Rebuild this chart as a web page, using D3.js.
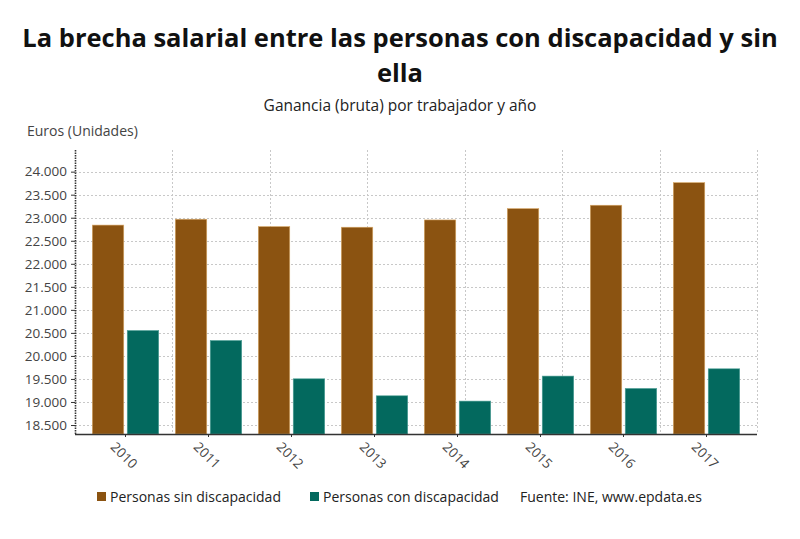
<!DOCTYPE html>
<html>
<head>
<meta charset="utf-8">
<script src="https://cdn.jsdelivr.net/npm/d3@7"></script>
<style>
  body { margin: 0; background: #fff; }
  svg { display: block; font-family: "Open Sans", "Noto Sans", sans-serif; }
</style>
</head>
<body>
<svg width="800" height="539"></svg>
<script>
// data
const years = ['2010', '2011', '2012', '2013', '2014', '2015', '2016', '2017'];
const sinDiscapacidad = [22840, 22967, 22807, 22794, 22952, 23197, 23271, 23761];
const conDiscapacidad = [20551, 20334, 19503, 19134, 19019, 19562, 19293, 19720];
const seriesNames = ['Personas sin discapacidad', 'Personas con discapacidad'];
const yTicks = [18500, 19000, 19500, 20000, 20500, 21000, 21500, 22000, 22500, 23000, 23500, 24000];

const colors = ['#8b5311', '#03695e'];
const strokes = ['#d8a868', '#4fa096'];

const svg = d3.select('svg');
const margin = {left: 75, right: 757, top: 150, bottom: 434};

const fmt = d3.formatLocale({decimal: ',', thousands: '.', grouping: [3], currency: ['', '€']}).format(',.0f');

const y = d3.scaleLinear()
    .domain([18305, 24470])
    .range([margin.bottom, margin.top]);

const x = d3.scaleBand()
    .domain(years)
    .range([84, 748])
    .paddingInner(0.2)
    .paddingOuter(0.1);

const xInner = d3.scaleBand()
    .domain([0, 1])
    .range([0, x.bandwidth()])
    .paddingInner(0.1);

// vertical grid, 7 equal parts
const gx = d3.scaleLinear().domain([0, 7]).range([margin.left, margin.right]);

const grid = svg.append('g')
    .attr('stroke', '#c8c8c8')
    .attr('stroke-width', 1)
    .attr('stroke-dasharray', '2,2');

grid.selectAll('line.h')
  .data(yTicks)
  .join('line')
    .attr('class', 'h')
    .attr('x1', margin.left)
    .attr('x2', margin.right)
    .attr('y1', d => Math.round(y(d)) + 0.5)
    .attr('y2', d => Math.round(y(d)) + 0.5);

grid.selectAll('line.v')
  .data(d3.range(1, 8))
  .join('line')
    .attr('class', 'v')
    .attr('x1', d => Math.round(gx(d)) + 0.5)
    .attr('x2', d => Math.round(gx(d)) + 0.5)
    .attr('y1', margin.top)
    .attr('y2', margin.bottom);

// bars
const series = [sinDiscapacidad, conDiscapacidad];
series.forEach((vals, si) => {
  svg.append('g')
    .selectAll('rect')
    .data(vals)
    .join('rect')
      .attr('x', (d, i) => x(years[i]) + xInner(si))
      .attr('width', xInner.bandwidth())
      .attr('y', d => y(d))
      .attr('height', d => y.range()[0] - y(d))
      .attr('fill', colors[si])
      .attr('stroke', strokes[si])
      .attr('stroke-width', 0.6);
});

// y axis
const yAxis = svg.append('g')
    .attr('transform', `translate(${margin.left},0)`)
    .call(d3.axisLeft(y).tickValues(yTicks).tickFormat(fmt).tickSize(4).tickPadding(4));
yAxis.select('.domain').remove();
yAxis.selectAll('.tick line').attr('stroke', '#333');
yAxis.selectAll('.tick text')
    .attr('fill', '#444')
    .attr('font-size', 13.5)
    .attr('font-family', '"Open Sans", sans-serif');

svg.append('line')
    .attr('x1', margin.left + 0.5).attr('x2', margin.left + 0.5)
    .attr('y1', margin.top).attr('y2', margin.bottom)
    .attr('stroke', '#333')
    .attr('stroke-width', 1.6)
    .attr('stroke-dasharray', '1.5,1');

// x axis
const xAxis = svg.append('g')
    .attr('transform', `translate(0,${margin.bottom})`)
    .call(d3.axisBottom(x).tickSize(3).tickPadding(6));
xAxis.select('.domain').remove();
xAxis.selectAll('.tick line').attr('stroke', '#333');
xAxis.selectAll('.tick text')
    .attr('fill', '#444')
    .attr('font-size', 13.5)
    .attr('font-family', '"Open Sans", sans-serif')
    .attr('text-anchor', 'start')
    .attr('transform', 'translate(-6,4) rotate(45)')
    .attr('dy', '0.35em');

svg.append('line')
    .attr('x1', margin.left).attr('x2', margin.right)
    .attr('y1', margin.bottom + 0.5).attr('y2', margin.bottom + 0.5)
    .attr('stroke', '#333')
    .attr('stroke-width', 1.5);

// titles
const title = svg.append('text')
    .attr('text-anchor', 'middle')
    .attr('font-size', 25.5)
    .attr('font-weight', 'bold')
    .attr('fill', '#111');
title.append('tspan').attr('x', 400).attr('y', 47)
    .text('La brecha salarial entre las personas con discapacidad y sin');
title.append('tspan').attr('x', 400).attr('y', 82)
    .text('ella');

svg.append('text')
    .attr('x', 400).attr('y', 111)
    .attr('text-anchor', 'middle')
    .attr('font-size', 15.5)
    .attr('fill', '#222')
    .text('Ganancia (bruta) por trabajador y año');

svg.append('text')
    .attr('x', 27).attr('y', 136)
    .attr('font-size', 14)
    .attr('fill', '#444')
    .text('Euros (Unidades)');

// legend
const legendX = [97, 310];
seriesNames.forEach((name, i) => {
  svg.append('rect')
    .attr('x', legendX[i]).attr('y', 492)
    .attr('width', 9).attr('height', 9)
    .attr('fill', colors[i]);
  svg.append('text')
    .attr('x', legendX[i] + 13).attr('y', 502)
    .attr('font-size', 14)
    .attr('fill', '#222')
    .text(name);
});

svg.append('text')
    .attr('x', 520).attr('y', 502)
    .attr('font-size', 14)
    .attr('fill', '#222')
    .text('Fuente: INE, www.epdata.es');
</script>
</body>
</html>
